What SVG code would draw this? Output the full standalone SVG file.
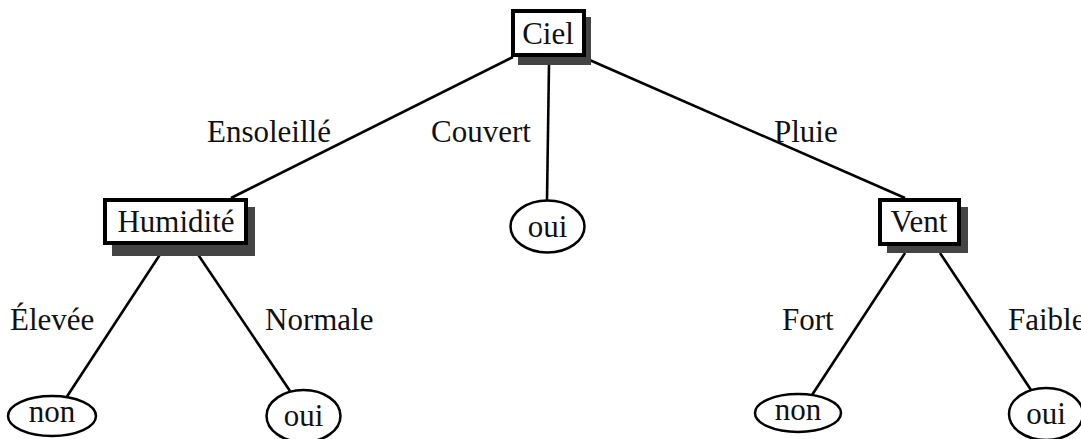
<svg xmlns="http://www.w3.org/2000/svg" width="1081" height="439" viewBox="0 0 1081 439">
<style>
text{font-family:"Liberation Serif","DejaVu Serif",serif;font-size:31px;fill:#111;}
.c{text-anchor:middle;}
.box{fill:#fff;stroke:#000;stroke-width:4;}
.sh{fill:#444;}
.ell{fill:#fff;stroke:#000;stroke-width:2.5;}
.edge{stroke:#000;stroke-width:2.6;fill:none;}
</style>
<rect width="1081" height="439" fill="#fff"/>
<g id="connectors">
<line class="edge" x1="513" y1="57" x2="231" y2="198"/>
<line class="edge" x1="549" y1="64" x2="547" y2="200"/>
<line class="edge" x1="585" y1="58" x2="905" y2="198"/>
<line class="edge" x1="161" y1="253" x2="66" y2="398"/>
<line class="edge" x1="197" y1="253" x2="290" y2="391"/>
<line class="edge" x1="905" y1="253" x2="812" y2="395"/>
<line class="edge" x1="940" y1="253" x2="1031" y2="390"/>
</g>
<g id="edge-labels">
<text x="207" y="142">Ensoleillé</text>
<text x="431" y="142">Couvert</text>
<text x="774" y="142">Pluie</text>
<text x="10" y="330">Élevée</text>
<text x="265" y="330">Normale</text>
<text x="782" y="330">Fort</text>
<text x="1008" y="330">Faible</text>
</g>
<g id="ciel">
<rect class="sh" x="518" y="17" width="73" height="48"/>
<rect class="box" x="513" y="11" width="71" height="44"/>
<text class="c" x="548" y="44">Ciel</text>
</g>
<g id="humidite">
<rect class="sh" x="112" y="207" width="143" height="49"/>
<rect class="box" x="105" y="200" width="141" height="43"/>
<text class="c" x="176" y="232">Humidité</text>
</g>
<g id="vent">
<rect class="sh" x="887" y="207" width="81" height="46"/>
<rect class="box" x="880" y="200" width="79" height="44"/>
<text class="c" x="919" y="232">Vent</text>
</g>
<g id="oui-couvert">
<ellipse class="ell" cx="547.5" cy="226.5" rx="37" ry="26"/>
<text class="c" x="547.5" y="237">oui</text>
</g>
<g id="non-eleve">
<ellipse class="ell" cx="52" cy="416" rx="44" ry="20"/>
<text class="c" x="52" y="422">non</text>
</g>
<g id="oui-normale">
<ellipse class="ell" cx="303.5" cy="416" rx="37" ry="26"/>
<text class="c" x="303.5" y="426">oui</text>
</g>
<g id="non-fort">
<ellipse class="ell" cx="798" cy="413" rx="43" ry="19"/>
<text class="c" x="798" y="420">non</text>
</g>
<g id="oui-faible">
<ellipse class="ell" cx="1046" cy="414" rx="37" ry="26"/>
<text class="c" x="1046" y="424">oui</text>
</g>
</svg>
